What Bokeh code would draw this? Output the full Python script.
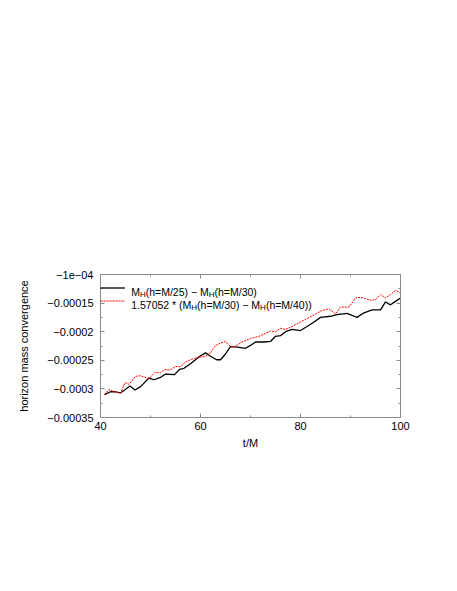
from bokeh.plotting import figure
from bokeh.models import (Range1d, FixedTicker, LinearAxis, Legend, LegendItem, Label)
from bokeh.embed import file_html
from bokeh.resources import INLINE

# ---- data ----
t_black = [40.8, 42, 43, 44, 45.9, 46.9, 48, 49.7, 50.7, 52, 53, 54.8, 55.8, 56.7, 58, 59, 60, 61, 62,
           63.2, 64, 65, 66, 67.3, 69, 70, 71, 72.7, 74, 75, 76, 77, 78.3, 80, 81.3, 82.7, 84, 86,
           87.3, 89.3, 91.3, 92.7, 94.3, 96, 97, 98, 99, 100]
v_black = [-3.10e-4, -3.05e-4, -3.05e-4, -3.07e-4, -2.95e-4, -3.02e-4, -2.96e-4, -2.81e-4, -2.84e-4,
           -2.80e-4, -2.74e-4, -2.75e-4, -2.66e-4, -2.64e-4, -2.56e-4, -2.49e-4, -2.42e-4, -2.37e-4,
           -2.43e-4, -2.49e-4, -2.49e-4, -2.39e-4, -2.26e-4, -2.27e-4, -2.29e-4, -2.24e-4, -2.18e-4,
           -2.18e-4, -2.17e-4, -2.08e-4, -2.07e-4, -2.00e-4, -1.96e-4, -1.98e-4, -1.91e-4, -1.83e-4,
           -1.75e-4, -1.73e-4, -1.70e-4, -1.68e-4, -1.75e-4, -1.67e-4, -1.62e-4, -1.62e-4, -1.48e-4,
           -1.53e-4, -1.47e-4, -1.41e-4]
t_red = [40.8, 41.7, 42.7, 44, 44.9, 45.7, 47, 48, 49.7, 50.9, 51.9, 52.9, 53.9, 55, 56, 57, 58, 59.3,
         61, 62, 63, 64, 65, 65.7, 66.7, 68.3, 70, 71.7, 73, 74, 75, 76, 77, 78.3, 80, 81.3, 83, 84.3,
         85.7, 87, 88, 89.7, 91, 92, 93, 94, 95, 96, 97, 98, 99, 100]
v_red = [-3.10e-4, -3.01e-4, -3.05e-4, -3.07e-4, -2.89e-4, -2.92e-4, -2.78e-4, -2.77e-4, -2.82e-4,
         -2.71e-4, -2.72e-4, -2.66e-4, -2.67e-4, -2.61e-4, -2.61e-4, -2.53e-4, -2.49e-4, -2.45e-4,
         -2.43e-4, -2.37e-4, -2.24e-4, -2.20e-4, -2.17e-4, -2.24e-4, -2.27e-4, -2.18e-4, -2.12e-4,
         -2.08e-4, -2.03e-4, -1.99e-4, -2.00e-4, -1.94e-4, -1.96e-4, -1.91e-4, -1.83e-4, -1.77e-4,
         -1.69e-4, -1.63e-4, -1.60e-4, -1.69e-4, -1.57e-4, -1.57e-4, -1.41e-4, -1.40e-4, -1.42e-4,
         -1.45e-4, -1.44e-4, -1.35e-4, -1.41e-4, -1.35e-4, -1.28e-4, -1.32e-4]

x_ticks = [40, 60, 80, 100]
x_minor = [50, 70, 90]
y_ticks = [-1e-4, -1.5e-4, -2e-4, -2.5e-4, -3e-4, -3.5e-4]
y_tick_labels = ["\u22121e\u221204", "\u22120.00015", "\u22120.0002", "\u22120.00025", "\u22120.0003", "\u22120.00035"]
y_minor = [-1.25e-4, -1.75e-4, -2.25e-4, -2.75e-4, -3.25e-4]

legend1 = [("M", False), ("H", True), ("(h=M/25) \u2212 M", False), ("H", True), ("(h=M/30)", False)]
legend2 = [("1.57052 * (M", False), ("H", True), ("(h=M/30) \u2212 M", False), ("H", True), ("(h=M/40))", False)]

FONT = "Liberation Sans"
GREY = "#8a8a8a"

p = figure(frame_width=300, frame_height=143, output_backend="svg", toolbar_location=None,
           x_range=Range1d(40, 100), y_range=Range1d(-3.5e-4, -1e-4),
           min_border_left=100, min_border_top=274, min_border_right=49, min_border_bottom=160,
           x_axis_label="t/M", y_axis_label="horizon mass convergence")
p.xgrid.visible = False
p.ygrid.visible = False
p.outline_line_color = GREY
p.background_fill_color = "white"
p.border_fill_color = "white"

xt = FixedTicker(ticks=x_ticks, minor_ticks=x_minor)
yt = FixedTicker(ticks=y_ticks, minor_ticks=y_minor)
p.xaxis.ticker = xt
p.yaxis.ticker = yt
p.yaxis.major_label_overrides = {v: s for v, s in zip(y_ticks, y_tick_labels)}

for ax in (p.xaxis[0], p.yaxis[0]):
    ax.axis_line_color = GREY
    ax.major_tick_line_color = GREY
    ax.minor_tick_line_color = GREY
    ax.major_tick_in = 4
    ax.major_tick_out = 0
    ax.minor_tick_in = 2
    ax.minor_tick_out = 0
    ax.major_label_text_font = FONT
    ax.major_label_text_font_size = "11px"
    ax.major_label_text_color = "black"
    ax.axis_label_text_font = FONT
    ax.axis_label_text_font_size = "11px"
    ax.axis_label_text_font_style = "normal"
    ax.axis_label_text_color = "black"
p.yaxis.major_label_standoff = 7
p.yaxis.axis_label_standoff = 14
p.xaxis.major_label_standoff = 4
p.xaxis.axis_label_standoff = 4

for loc, tk in (("right", yt), ("above", xt)):
    ax = LinearAxis(ticker=tk, axis_line_color=GREY, major_tick_line_color=GREY,
                    minor_tick_line_color=GREY, major_tick_in=4, major_tick_out=0,
                    minor_tick_in=2, minor_tick_out=0, major_label_text_font_size="0px",
                    major_label_text_alpha=0)
    p.add_layout(ax, loc)

r1 = p.line(t_black, v_black, line_color="black", line_width=1.3)
r2 = p.line(t_red, v_red, line_color="#ff0000", line_width=1.0, line_dash="2 1")

legend = Legend(items=[LegendItem(label=" ", renderers=[r1]), LegendItem(label=" ", renderers=[r2])],
                location=(0, 110), glyph_width=25, glyph_height=13, label_height=13,
                spacing=0, padding=0, margin=0, border_line_alpha=0, background_fill_alpha=0,
                label_text_font_size="1px", label_standoff=0, label_width=1)
p.add_layout(legend)

# legend text pieces with subscripts (Liberation Sans / Arial advance widths)
W = {"M": 833, "H": 722, "(": 333, ")": 333, "h": 556, "=": 584, "/": 278, " ": 278, "\u2212": 584,
     "*": 389, ".": 278}
for d in "0123456789":
    W[d] = 556

def width(s, size):
    return sum(W.get(c, 556) for c in s) * size / 1000.0

MAIN, SUB = 10.5, 8.0
for pieces, center in ((legend1, 129.7), (legend2, 116.5)):
    x = 30.7
    base = center - 3.8
    for txt, sub in pieces:
        size = SUB if sub else MAIN
        p.add_layout(Label(x=x, y=base - (2.6 if sub else 0), x_units="screen", y_units="screen",
                           text=txt, text_font=FONT, text_font_size=f"{size}px",
                           text_baseline="alphabetic", text_align="left", text_color="black"))
        x += width(txt, size)

open("out.html", "w").write(file_html(p, INLINE))
